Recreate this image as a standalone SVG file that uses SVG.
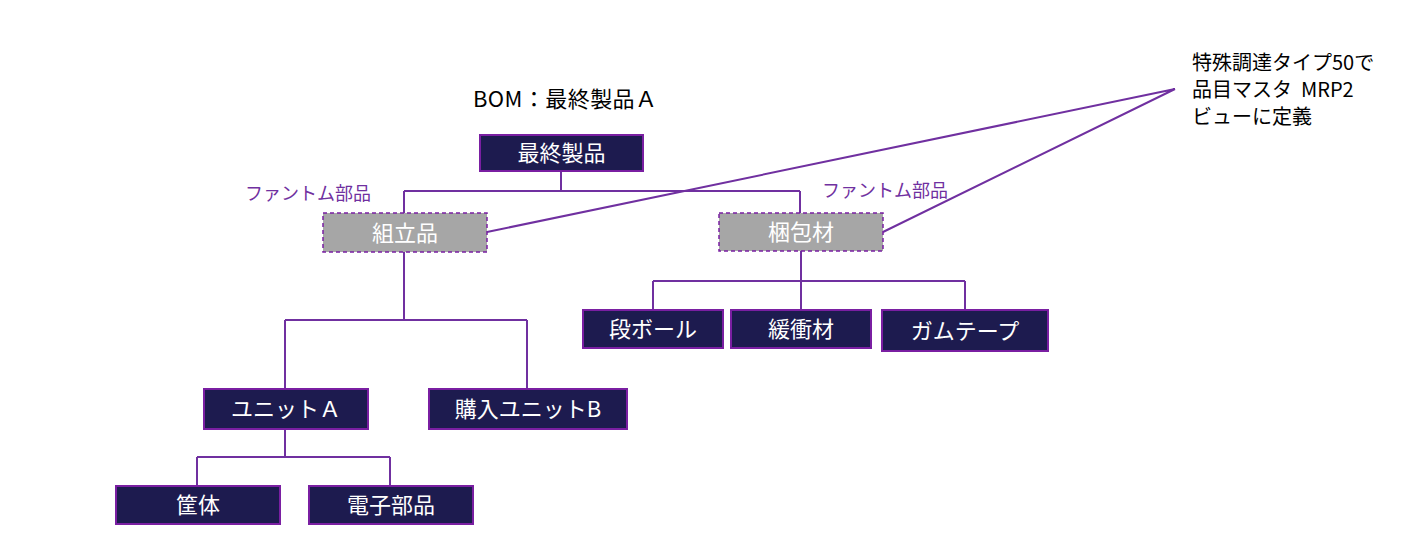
<svg xmlns="http://www.w3.org/2000/svg" width="1418" height="555" viewBox="0 0 1418 555">
<style>
text{font-family:"Noto Sans CJK JP","Noto Sans",sans-serif}
.box{fill:#1d1b4f;stroke:#7a1fa2;stroke-width:2}
.ph{fill:#a6a6a6;stroke:#7a1fa2;stroke-width:1.5;stroke-dasharray:4 3}
.lbl{fill:#ffffff;font-size:22px;text-anchor:middle}
.conn{fill:none;stroke:#7030a0;stroke-width:2}
.note{fill:#000000;font-size:20px}
.title{fill:#000000;font-size:22px}
.pl{fill:#7030a0;font-size:18px}
</style>
<rect width="1418" height="555" fill="#ffffff"/>
<text class="title" x="473" y="107" textLength="184" lengthAdjust="spacing">BOM：最終製品Ａ</text>
<g id="connectors">
<path class="conn" d="M561,171 V191 M404,191 H800 M404,191 V213 M800,191 V213"/>
<path class="conn" d="M404,252 V320 M285,320 H527 M285,320 V389 M527,320 V389"/>
<path class="conn" d="M801,251 V281 M653,281 H965 M653,281 V310 M801,281 V310 M965,281 V310"/>
<path class="conn" d="M285,429 V457 M197,457 H390 M197,457 V486 M390,457 V486"/>
<path class="conn" d="M487,232 L1175,89 M883,232 L1175,89"/>
</g>
<g id="n-final"><rect class="box" x="480" y="135" width="163" height="36"/><text class="lbl" x="561.5" y="161">最終製品</text></g>
<g id="n-assy"><rect class="ph" x="323" y="213" width="164" height="39"/><text class="lbl" x="405" y="240.5">組立品</text></g>
<g id="n-pack"><rect class="ph" x="719" y="213" width="164" height="38"/><text class="lbl" x="801" y="240">梱包材</text></g>
<g id="n-box"><rect class="box" x="583" y="310" width="140" height="38"/><text class="lbl" x="653" y="337">段ボール</text></g>
<g id="n-cush"><rect class="box" x="731" y="310" width="140" height="38"/><text class="lbl" x="801" y="337">緩衝材</text></g>
<g id="n-tape"><rect class="box" x="882" y="310" width="166" height="41"/><text class="lbl" x="965" y="338.5">ガムテープ</text></g>
<g id="n-unitA"><rect class="box" x="204" y="389" width="164" height="40"/><text class="lbl" x="286" y="417">ユニットＡ</text></g>
<g id="n-unitB"><rect class="box" x="429" y="389" width="198" height="40"/><text class="lbl" x="528" y="417">購入ユニットB</text></g>
<g id="n-case"><rect class="box" x="116" y="486" width="164" height="38"/><text class="lbl" x="198" y="513">筐体</text></g>
<g id="n-elec"><rect class="box" x="309" y="486" width="164" height="38"/><text class="lbl" x="391" y="513">電子部品</text></g>
<g id="labels">
<text class="pl" x="245" y="200">ファントム部品</text>
<text class="pl" x="822" y="197">ファントム部品</text>
</g>
<g id="callout">
<text class="note" x="1192" y="70">特殊調達タイプ50で</text>
<text class="note" x="1192" y="97" xml:space="preserve">品目マスタ  MRP2</text>
<text class="note" x="1192" y="124">ビューに定義</text>
</g>
</svg>
